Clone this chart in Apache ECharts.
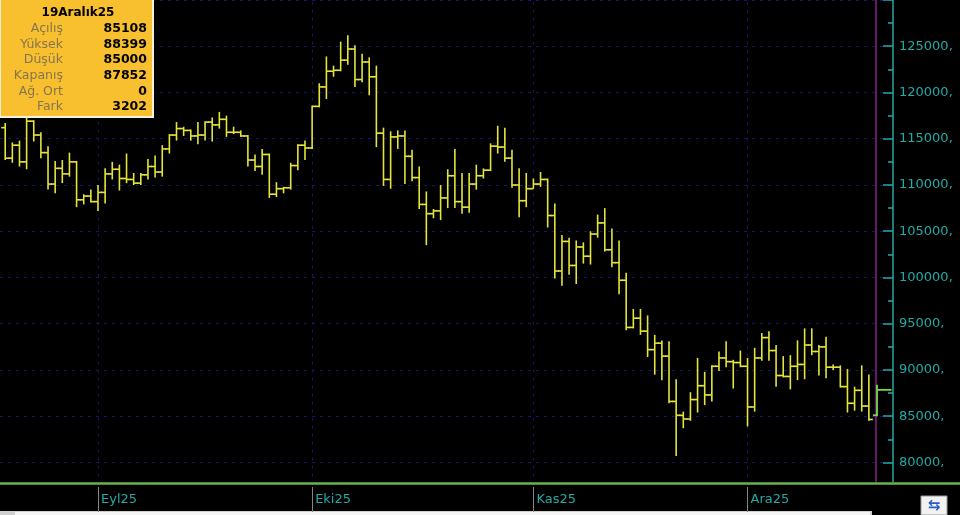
<!DOCTYPE html>
<html><head><meta charset="utf-8">
<script src="https://cdn.jsdelivr.net/npm/echarts@6/dist/echarts.min.js"></script>
<style>html,body{margin:0;padding:0;background:#000;}#c{width:960px;height:515px;}</style>
</head><body><div id="c"></div>
<script>
// ---- data (daily OHLC, first bar 2025-08-19) ----
const startDate = '2025-08-19';
const opens = [116200,112900,114300,112500,116900,115400,113500,110100,111800,111200,112500,108400,108800,
  108200,109200,111200,111700,110700,110600,110200,111100,112000,111400,113900,115400,116100,115900,115300,115400,116800,116500,117100,115700,115700,115300,112700,112000,113300,109000,109600,109700,112100,114300,
  114000,118500,120600,122300,122400,123500,124700,121400,123300,121700,115600,110600,115200,115300,113100,110800,107900,106900,107200,108600,111000,108200,107600,110100,111000,111600,114200,114100,112900,110000,108300,
  109600,110100,110600,106700,100700,103900,101300,103300,102300,104700,105900,103000,101600,99700,94600,95600,94200,92200,92900,91500,86600,85100,84700,86800,88300,87300,90400,91300,90900,90800,
  90400,86000,91300,93500,92100,89400,89300,90400,90600,92700,92000,92500,90300,90300,88200,86400,87800,86100,85108];
const highs = [116700,114600,114800,117400,117000,115700,114200,112600,112700,113500,112600,109000,109500,
  110000,111800,112500,112200,113400,111300,111300,112800,113200,114300,115500,116800,116300,116000,116800,116900,117300,117900,117500,116300,115900,115400,113300,113900,113400,110300,109800,112400,114400,114800,
  118600,121000,123900,122900,125500,126200,125100,124200,123800,122900,116200,115800,115900,115900,113800,112000,109300,107400,110000,111700,113900,111300,111300,112200,111800,114500,116400,116200,113800,111800,111300,
  110700,111400,110700,108000,104600,104300,104000,103800,105000,106800,107500,105300,104000,100500,96600,96600,95900,93800,93200,93100,89000,85500,87600,91300,89800,90500,92000,93100,91100,92100,
  91300,92400,94000,94200,92700,91500,91600,93200,94500,94500,92700,93600,90600,90500,90100,88200,90500,89500,88399];
const lows = [112700,112400,112000,111700,114700,112900,109500,109100,110200,110900,107600,107900,108100,
  107200,108000,110600,109400,110200,110000,110000,110600,110800,110900,113400,114800,115300,114800,114400,114800,114700,116100,115200,115500,115200,112000,111500,111100,108600,108700,109100,109500,111600,112700,
  113900,118400,119300,121700,122300,123000,120600,121100,119700,114100,109900,109600,113900,110100,110400,107400,103500,106400,106200,107500,107500,106900,107000,109500,110700,111500,113400,112500,109700,106500,107600,
  109600,109800,105400,99900,99100,100300,99300,101500,101400,104300,102800,101100,98200,94300,94500,93800,91400,89500,88900,86400,80700,83700,84500,85400,86200,86600,89900,90300,88000,90300,
  83900,85500,91000,91000,88200,89200,87900,88900,89000,91600,89400,89100,90000,88100,85400,85600,85500,84500,85000];
const closes = [112900,114300,112500,116900,115400,113500,110100,111800,111200,112500,108400,108800,108200,
  109200,111200,111700,110700,110600,110200,111100,112000,111400,113900,115400,116100,115900,115300,115400,116800,116500,117100,115700,115700,115300,112700,112000,113300,109000,109600,109700,112100,114300,114000,
  118500,120600,122300,122400,123500,124700,121400,123300,121700,115600,110600,115200,115300,113100,110800,107900,106900,107200,108600,111000,108200,107600,110100,111000,111600,114200,114100,112900,110000,108300,109600,
  110100,110600,106700,100700,103900,101300,103300,102300,104700,105900,103000,101600,99700,94600,95600,94200,92200,92900,91500,86600,85100,84700,86800,88300,87300,90400,91300,90900,90800,90400,
  86000,91300,93500,92100,89400,89300,90400,90600,92700,92000,92500,90300,90300,88200,86400,87800,86100,84650,87852];
const monthTickDates = ['2025-09-01','2025-10-01','2025-11-01','2025-12-01'];
const monthTickLabels = ['Eyl25','Eki25','Kas25','Ara25'];
const cursorDate = '2025-12-19';
const infoTitle = '19Aralık25';
const infoLabels = ['Açılış','Yüksek','Düşük','Kapanış','Ağ. Ort','Fark'];
const infoValues = ['85108','88399','85000','87852','0','3202'];

// ---- build ----
const dates = [];
{
  const d0 = new Date(startDate + 'T00:00:00Z');
  for (let i = 0; i < opens.length; i++) {
    const d = new Date(d0.getTime() + i * 86400000);
    dates.push(d.toISOString().slice(0, 10));
  }
}
const ohlc = dates.map((d, i) => [i, opens[i], highs[i], lows[i], closes[i]]);
const monthIdx = monthTickDates.map(d => dates.indexOf(d));
const labelMap = {};
monthIdx.forEach((v, k) => { labelMap[v] = monthTickLabels[k]; });
const cursorIdx = dates.indexOf(cursorDate);

const FONT = 'DejaVu Sans';
const TEAL = '#22aaa6';
const GRIDC = '#15156c';
const XMIN = -0.7285, XMAX = 124.38;

function renderItem(params, api) {
  const i = api.value(0);
  const pO = api.coord([i, api.value(1)]);
  const pH = api.coord([i, api.value(2)]);
  const pL = api.coord([i, api.value(3)]);
  const pC = api.coord([i, api.value(4)]);
  const last = params.dataIndex === opens.length - 1;
  const x = pH[0] + (last ? 1 : 0);
  const color = last ? '#78d84c' : '#e4e43c';
  const axisX = params.coordSys.x + params.coordSys.width;
  const rlen = last ? Math.max(4, axisX - x - 1.5) : 4;
  const st = { stroke: color, lineWidth: last ? 1.8 : 1.6 };
  return {
    type: 'group',
    children: [
      { type: 'line', z2: last ? 10 : 1, shape: { x1: x, y1: pH[1], x2: x, y2: pL[1] }, style: st },
      { type: 'line', z2: last ? 10 : 1, shape: { x1: x - 4, y1: pO[1], x2: x, y2: pO[1] }, style: st },
      { type: 'line', z2: last ? 10 : 1, shape: { x1: x, y1: pC[1], x2: x + rlen, y2: pC[1] }, style: st }
    ]
  };
}

const graphics = [
  { type: 'rect', z: 100, shape: { x: 0, y: 482, width: 960, height: 33 }, style: { fill: '#000' } },
  { type: 'line', z: 101, shape: { x1: 0, y1: 483.5, x2: 960, y2: 483.5 }, style: { stroke: '#66b452', lineWidth: 2.5 } },
  { type: 'rect', z: 101, shape: { x: 0, y: 511, width: 872, height: 4 }, style: { fill: '#cfcfcf' } },
  { type: 'rect', z: 102, shape: { x: 15, y: 512, width: 855, height: 3 }, style: { fill: '#f5f5f5' } },
  { type: 'rect', z: 101, shape: { x: 921, y: 496, width: 26, height: 19 }, style: { fill: '#f2f2f2', stroke: '#9a9a9a', lineWidth: 1 } },
  { type: 'text', z: 102, x: 934, y: 506, style: { text: '⇆', fill: '#2a5cc8', font: 'bold 15px ' + FONT, align: 'center', verticalAlign: 'middle' } },
  { type: 'rect', z: 100, shape: { x: 0, y: -2, width: 153, height: 119 }, style: { fill: '#f8bf2e', stroke: '#f4f0e0', lineWidth: 2 } },
  { type: 'text', z: 101, x: 78, y: 13, style: { text: infoTitle, fill: '#000', font: 'bold 12px ' + FONT, align: 'center', verticalAlign: 'middle' } }
];
infoLabels.forEach((lab, k) => {
  const y = 29 + k * 15.6;
  graphics.push({ type: 'text', z: 101, x: 63, y: y, style: { text: lab, fill: '#847552', font: '12.5px ' + FONT, align: 'right', verticalAlign: 'middle' } });
  graphics.push({ type: 'text', z: 101, x: 147, y: y, style: { text: infoValues[k], fill: '#000', font: 'bold 12.5px ' + FONT, align: 'right', verticalAlign: 'middle' } });
});

const chart = echarts.init(document.getElementById('c'), null, { renderer: 'canvas' });
chart.setOption({
  backgroundColor: '#000',
  animation: false,
  grid: [
    { left: 0, right: 67, top: -10.72, height: 519.44 },
    { left: 0, right: 67, top: 487, height: 25 }
  ],
  xAxis: [
    { type: 'value', gridIndex: 0, min: XMIN, max: XMAX, show: false },
    { type: 'value', gridIndex: 1, min: XMIN, max: XMAX, position: 'top', z: 200,
      axisLine: { show: false, onZero: false },
      splitLine: { show: false },
      axisTick: { show: true, inside: true, length: 25, customValues: monthIdx, lineStyle: { color: '#858585', width: 1 } },
      axisLabel: { show: true, inside: true, customValues: monthIdx, formatter: v => labelMap[v] || '',
        color: TEAL, fontFamily: FONT, fontSize: 13, align: 'left', verticalAlign: 'middle', margin: 13, padding: [0, 0, 0, 3] } }
  ],
  yAxis: [
    { type: 'value', gridIndex: 0, position: 'right', min: 75000, max: 130000, interval: 5000,
      axisLine: { show: true, onZero: false, lineStyle: { color: TEAL, width: 1.5 } },
      axisTick: { show: true, inside: true, length: 10, lineStyle: { color: TEAL, width: 1.5 } },
      minorTick: { show: true, splitNumber: 2, length: 5, lineStyle: { color: TEAL, width: 1.5 } },
      axisLabel: { show: true, showMinLabel: false, showMaxLabel: false, formatter: v => v + ',',
        color: TEAL, fontFamily: FONT, fontSize: 13, margin: 6 },
      splitLine: { show: true, lineStyle: { color: GRIDC, type: [3, 5], width: 1 } } },
    { type: 'value', gridIndex: 1, show: false }
  ],
  series: [
    { type: 'line', xAxisIndex: 0, yAxisIndex: 0, data: [], z: 1,
      markLine: { silent: true, symbol: ['none', 'none'], label: { show: false },
        lineStyle: { color: GRIDC, type: [3, 5], width: 1 },
        data: monthIdx.map(v => ({ xAxis: v })).concat([
          { xAxis: cursorIdx, lineStyle: { color: '#8c1e8c', type: 'solid', width: 1.5 } }
        ]) } },
    { type: 'custom', xAxisIndex: 0, yAxisIndex: 0, z: 5, clip: false, renderItem: renderItem,
      encode: { x: 0, y: [1, 2, 3, 4] }, data: ohlc }
  ],
  graphic: graphics
});
</script>
</body></html>
